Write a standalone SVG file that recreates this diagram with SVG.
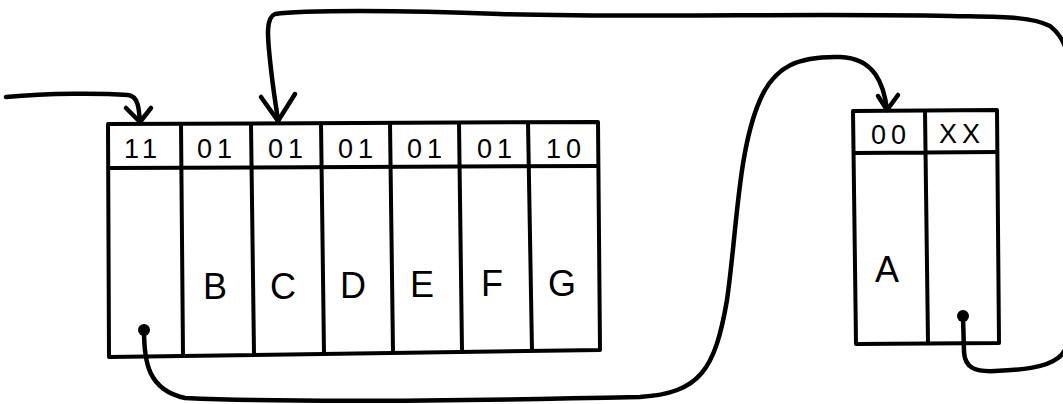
<svg xmlns="http://www.w3.org/2000/svg" width="1063" height="404" viewBox="0 0 1063 404">
<style>
.box{fill:none;stroke:#000;stroke-width:4;stroke-linejoin:round}
.ln{stroke:#000;stroke-width:4;fill:none}
.hd{font-family:"Liberation Sans",Arial,sans-serif;font-size:27px;text-anchor:middle;fill:#000;letter-spacing:5px}
.lt{font-family:"Liberation Sans",Arial,sans-serif;font-size:36px;text-anchor:middle;fill:#000}
.cn{fill:none;stroke:#000;stroke-width:4.5;stroke-linecap:round;stroke-linejoin:round}
.dot{fill:#000}
</style>
<rect width="1063" height="404" fill="#fff"/>
<g id="node-list">
<path class="box" d="M108,124 L598,122 L600,350 L109,357 Z"/>
<path class="ln" d="M108,168 L599,166"/>
<path class="ln" d="M181,124 L183,355 M251,124 L254,354 M321,123 L324,353 M390,123 L393,352 M459,123 L462,351 M528,122 L532,351"/>
<text class="hd" x="143" y="158">11</text>
<text class="hd" x="217" y="158">01</text>
<text class="hd" x="288" y="158">01</text>
<text class="hd" x="358" y="158">01</text>
<text class="hd" x="427" y="158">01</text>
<text class="hd" x="497" y="158">01</text>
<text class="hd" x="566" y="158">10</text>
<text class="lt" x="215" y="299">B</text>
<text class="lt" x="283" y="299">C</text>
<text class="lt" x="353" y="298">D</text>
<text class="lt" x="422" y="297">E</text>
<text class="lt" x="492" y="296">F</text>
<text class="lt" x="562" y="296">G</text>
<circle class="dot" cx="144" cy="330" r="6"/>
</g>
<g id="node-a">
<path class="box" d="M853,111 L997,110 L999,343 L856,344 Z"/>
<path class="ln" d="M854,153 L998,152 M925,111 L928,343"/>
<text class="hd" x="891" y="144" font-size="24">00</text>
<text class="hd" x="962" y="143" font-size="22" letter-spacing="2px">XX</text>
<text class="lt" x="887" y="282">A</text>
<circle class="dot" cx="963" cy="316" r="6"/>
</g>
<g id="connectors">
<path class="cn" d="M6,97 C50,93 100,93 128,95 C138,96 139,108 140,122"/>
<path class="cn" d="M126,108 L140,122 L151,108"/>
<path class="cn" d="M963,316 L964,352 C965,368 975,372 995,371 C1020,370 1045,368 1058,358 C1068,350 1070,340 1070,320 L1070,90 C1070,60 1068,40 1050,26 C1030,16 1000,17 950,16 C800,13 650,18 500,14 C400,10 300,10 275,14 C265,18 268,40 270,60 C273,90 276,105 278,121"/>
<path class="cn" d="M261,97 L278,121 L295,94"/>
<path class="cn" d="M144,330 C144,362 148,390 185,398 C300,403 500,400 640,397 C700,393 715,370 727,300 C737,230 738,150 760,100 C775,65 800,56 840,57 C875,58 884,85 887,110"/>
<path class="cn" d="M878,96 L887,110 L898,95"/>
</g>
</svg>
